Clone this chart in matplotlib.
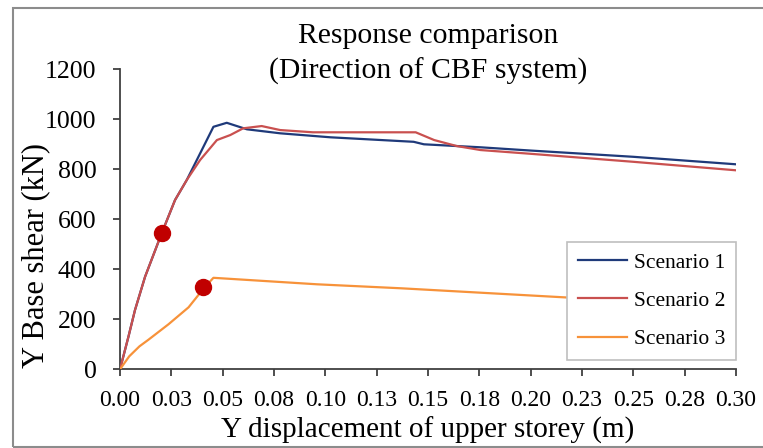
import matplotlib
matplotlib.use("Agg")
import matplotlib.pyplot as plt
from matplotlib.patches import Rectangle

plt.rcParams['font.family'] = ['Liberation Serif', 'DejaVu Serif']

# Scenario curves (displacement in m, base shear in kN)
s1_x = [0.0, 0.0041, 0.0073, 0.0122, 0.0203, 0.0268, 0.0325, 0.0374, 0.0455, 0.052, 0.0618, 0.078, 0.1025, 0.143, 0.148, 0.1756, 0.20, 0.25, 0.30]
s1_y = [0, 130, 237, 370, 544, 677, 757, 837, 970, 986, 960, 944, 928, 910, 900, 888, 875, 850, 820]

s2_x = [0.0, 0.0041, 0.0073, 0.0122, 0.0203, 0.0268, 0.0325, 0.039, 0.0472, 0.0537, 0.060, 0.069, 0.078, 0.094, 0.144, 0.153, 0.164, 0.1756, 0.20, 0.25, 0.30]
s2_y = [0, 130, 237, 370, 544, 677, 757, 837, 917, 937, 964, 973, 957, 948, 948, 917, 893, 877, 862, 830, 796]

s3_x = [0.0, 0.0045, 0.0095, 0.0138, 0.0236, 0.0334, 0.0406, 0.0455, 0.096, 0.137, 0.216, 0.30]
s3_y = [0, 52, 92, 118, 180, 248, 322, 366, 340, 324, 288, 252]

# highlighted points
dots_x = [0.0203, 0.0406]
dots_y = [544, 328]

x_ticks = [0.0, 0.025, 0.05, 0.075, 0.10, 0.125, 0.15, 0.175, 0.20, 0.225, 0.25, 0.275, 0.30]
x_tick_labels = ['0.00', '0.03', '0.05', '0.08', '0.10', '0.13', '0.15', '0.18', '0.20', '0.23', '0.25', '0.28', '0.30']
y_ticks = [0, 200, 400, 600, 800, 1000, 1200]

fig = plt.figure(figsize=(7.63, 4.48), dpi=100)
ax = fig.add_axes([120 / 763, 1 - 369.3 / 448, 616 / 763, 300 / 448])

ax.plot(s1_x, s1_y, color='#1F3A7A', lw=1.6, label='Scenario 1', zorder=3)
ax.plot(s2_x, s2_y, color='#C9504F', lw=1.6, label='Scenario 2', zorder=3)
ax.plot(s3_x, s3_y, color='#F7923A', lw=1.6, label='Scenario 3', zorder=3)
ax.plot(dots_x, dots_y, 'o', color='#C00000', ms=11.5, zorder=4)

ax.set_xlim(0, 0.30)
ax.set_ylim(0, 1200)
ax.set_xticks(x_ticks)
ax.set_xticklabels(x_tick_labels)
ax.set_yticks(y_ticks)
ax.tick_params(axis='x', labelsize=17, length=5, width=1.3, color='#404040', pad=10)
ax.tick_params(axis='y', labelsize=18.6, length=5, width=1.3, color='#404040', pad=12)
for side in ['top', 'right']:
    ax.spines[side].set_visible(False)
for side in ['left', 'bottom']:
    ax.spines[side].set_color('#404040')
    ax.spines[side].set_linewidth(1.3)

ax.set_xlabel('Y displacement of upper storey (m)', fontsize=21, labelpad=4)
ax.set_ylabel('Y Base shear (kN)', fontsize=22, va='center')
ax.yaxis.set_label_coords(-0.137, 0.381)

cx = (120 + 736) / 2 / 763
fig.text(cx, 1 - 36 / 448, 'Response comparison', ha='center', va='center', fontsize=21.4)
fig.text(cx, 1 - 71 / 448, '(Direction of CBF system)', ha='center', va='center', fontsize=21.4)

leg = ax.legend(loc='lower right', bbox_to_anchor=(1.0, 0.031), borderaxespad=0, fontsize=15.5,
                frameon=True, fancybox=False, edgecolor='#BFBFBF', framealpha=1, handlelength=2.3,
                labelspacing=0.85, borderpad=0.5, handletextpad=0.3)
leg.get_frame().set_linewidth(1.2)

# outer border of the chart area
fig.patches.append(Rectangle((13 / 763, 1 / 448), 2, 1 - 9 / 448, transform=fig.transFigure,
                             fill=False, edgecolor='#8C8C8C', lw=1.5, zorder=0))

fig.savefig('out.png', dpi=100)
